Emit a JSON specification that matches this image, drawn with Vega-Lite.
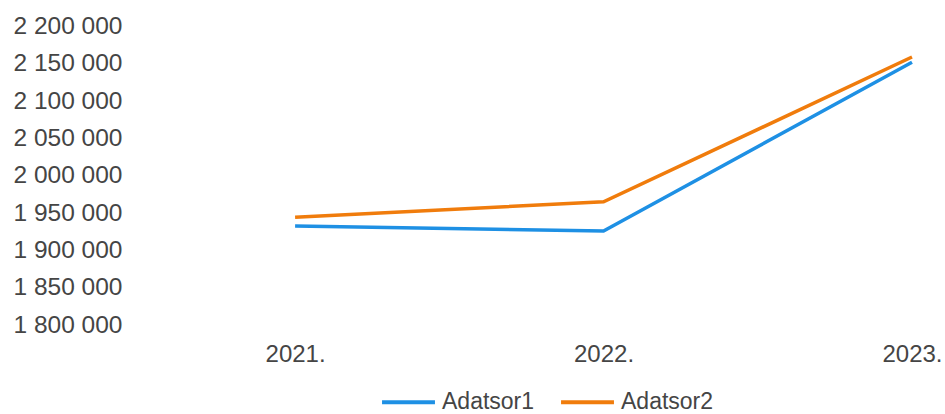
{
  "$schema": "https://vega.github.io/schema/vega-lite/v6.json",
  "autosize": "none",
  "width": 777,
  "height": 298.5,
  "padding": {"left": 135, "top": 26.5, "right": 33, "bottom": 89},
  "background": "white",
  "config": {
    "locale": {"number": {"decimal": ",", "thousands": " ", "grouping": [3], "currency": ["", ""]}},
    "view": {"stroke": null},
    "font": "Liberation Sans"
  },
  "data": {
    "values": [
      {"year": 2021, "series": "Adatsor1", "value": 1932700},
      {"year": 2022, "series": "Adatsor1", "value": 1926000},
      {"year": 2023, "series": "Adatsor1", "value": 2152000},
      {"year": 2021, "series": "Adatsor2", "value": 1944500},
      {"year": 2022, "series": "Adatsor2", "value": 1965000},
      {"year": 2023, "series": "Adatsor2", "value": 2159100}
    ]
  },
  "mark": {"type": "line", "strokeWidth": 3.5, "strokeJoin": "miter", "strokeCap": "butt"},
  "encoding": {
    "x": {
      "field": "year", "type": "quantitative",
      "scale": {"domain": [2020.481, 2023], "nice": false, "zero": false},
      "axis": {
        "values": [2021, 2022, 2023], "title": null, "grid": false, "domain": false, "ticks": false,
        "labelExpr": "datum.value + '.'", "labelFontSize": 24, "labelColor": "#454545",
        "labelBaseline": "middle", "labelPadding": 29, "labelFont": "Liberation Sans", "labelFlush": false
      }
    },
    "y": {
      "field": "value", "type": "quantitative",
      "scale": {"domain": [1800000, 2200000], "nice": false, "zero": false},
      "axis": {
        "values": [1800000, 1850000, 1900000, 1950000, 2000000, 2050000, 2100000, 2150000, 2200000],
        "format": ",d", "title": null, "grid": false, "domain": false, "ticks": false,
        "labelFontSize": 24.5, "labelColor": "#454545", "labelPadding": 13, "labelFont": "Liberation Sans"
      }
    },
    "color": {
      "field": "series", "type": "nominal",
      "scale": {"domain": ["Adatsor1", "Adatsor2"], "range": ["#1e90e4", "#f07c0c"]},
      "legend": {
        "title": null, "orient": "none", "legendX": 245, "legendY": 347, "direction": "horizontal",
        "symbolType": "stroke", "symbolSize": 2800, "symbolStrokeWidth": 4,
        "labelFontSize": 23, "labelColor": "#454545", "labelFont": "Liberation Sans",
        "labelOffset": 5, "columnPadding": 18
      }
    }
  }
}
